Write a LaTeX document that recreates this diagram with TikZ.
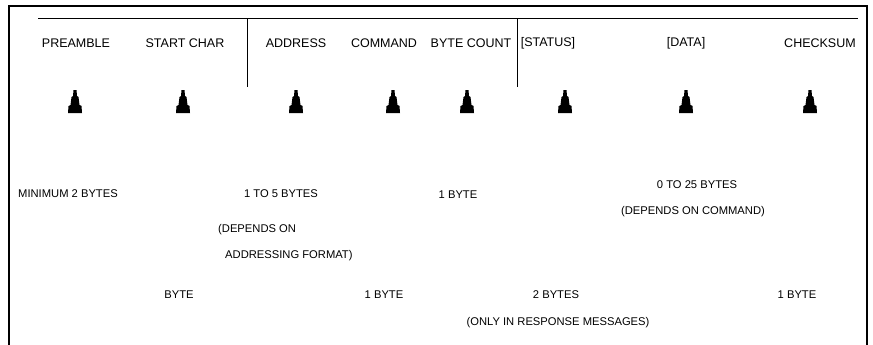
\documentclass[tikz,border=0pt]{standalone}
\usepackage{fontspec}
\setmainfont{Liberation Sans}
\usetikzlibrary{calc}

\tikzset{
  field/.style = {inner sep=0pt, font=\fontsize{12.5}{14}\selectfont},
  note/.style = {inner sep=0pt, font=\fontsize{11.2}{13}\selectfont},
  pointer/.pic = {
    \fill (-1.5,0) -- (1.5,0) -- (2,6) -- (3.5,7) -- (4.5,15) -- (6.5,16)
      -- (7,23) -- (-7,23) -- (-6.5,16) -- (-4.5,15) -- (-3.5,7) -- (-2,6) -- cycle;
  }
}

\begin{document}
\begin{tikzpicture}[x=1pt, y=-1pt]
    \useasboundingbox (0,0) rectangle (873,345);

    % frame
    \draw [line width=2pt] (9,345) -- (9,6) -- (867,6) -- (867,345);
    \draw [line width=1pt] (38,19) -- (858,19);
    \draw [line width=1pt] (247,19) -- (247,87);
    \draw [line width=1pt] (517,19) -- (517,87);

    % field names
    \node [field] (pre) at (76, 43) {PREAMBLE};
    \node [field] (stc) at (185, 43) {START CHAR};
    \node [field] (adr) at (296, 43) {ADDRESS};
    \node [field] (cmd) at (384, 43) {COMMAND};
    \node [field] (bcn) at (471, 43) {BYTE COUNT};
    \node [field] (sts) at (548, 43) {[STATUS]};
    \node [field] (dat) at (686, 43) {[DATA]};
    \node [field] (chk) at (820, 43) {CHECKSUM};

    % pointers
    \pic at (75, 90) {pointer};
    \pic at (183, 90) {pointer};
    \pic at (296, 90) {pointer};
    \pic at (393, 90) {pointer};
    \pic at (467, 90) {pointer};
    \pic at (565, 90) {pointer};
    \pic at (686, 90) {pointer};
    \pic at (810, 90) {pointer};

    % field sizes
    \node [note] (preN) at (68, 194) {MINIMUM 2 BYTES};
    \node [note] (adrN) at (281, 194) {1 TO 5 BYTES};
    \node [note, anchor=west] (adrA) at (218, 230) {(DEPENDS ON};
    \node [note, anchor=west] (adrB) at (225, 256) {ADDRESSING FORMAT)};
    \node [note] (bcnN) at (458, 195) {1 BYTE};
    \node [note] (datN) at (697, 185) {0 TO 25 BYTES};
    \node [note] (datA) at (693, 212) {(DEPENDS ON COMMAND)};
    \node [note] (stcN) at (179, 295) {BYTE};
    \node [note] (cmdN) at (384, 295) {1 BYTE};
    \node [note] (stsN) at (556, 295) {2 BYTES};
    \node [note] (stsA) at (558, 323) {(ONLY IN RESPONSE MESSAGES)};
    \node [note] (chkN) at (797, 295) {1 BYTE};
\end{tikzpicture}
\end{document}
